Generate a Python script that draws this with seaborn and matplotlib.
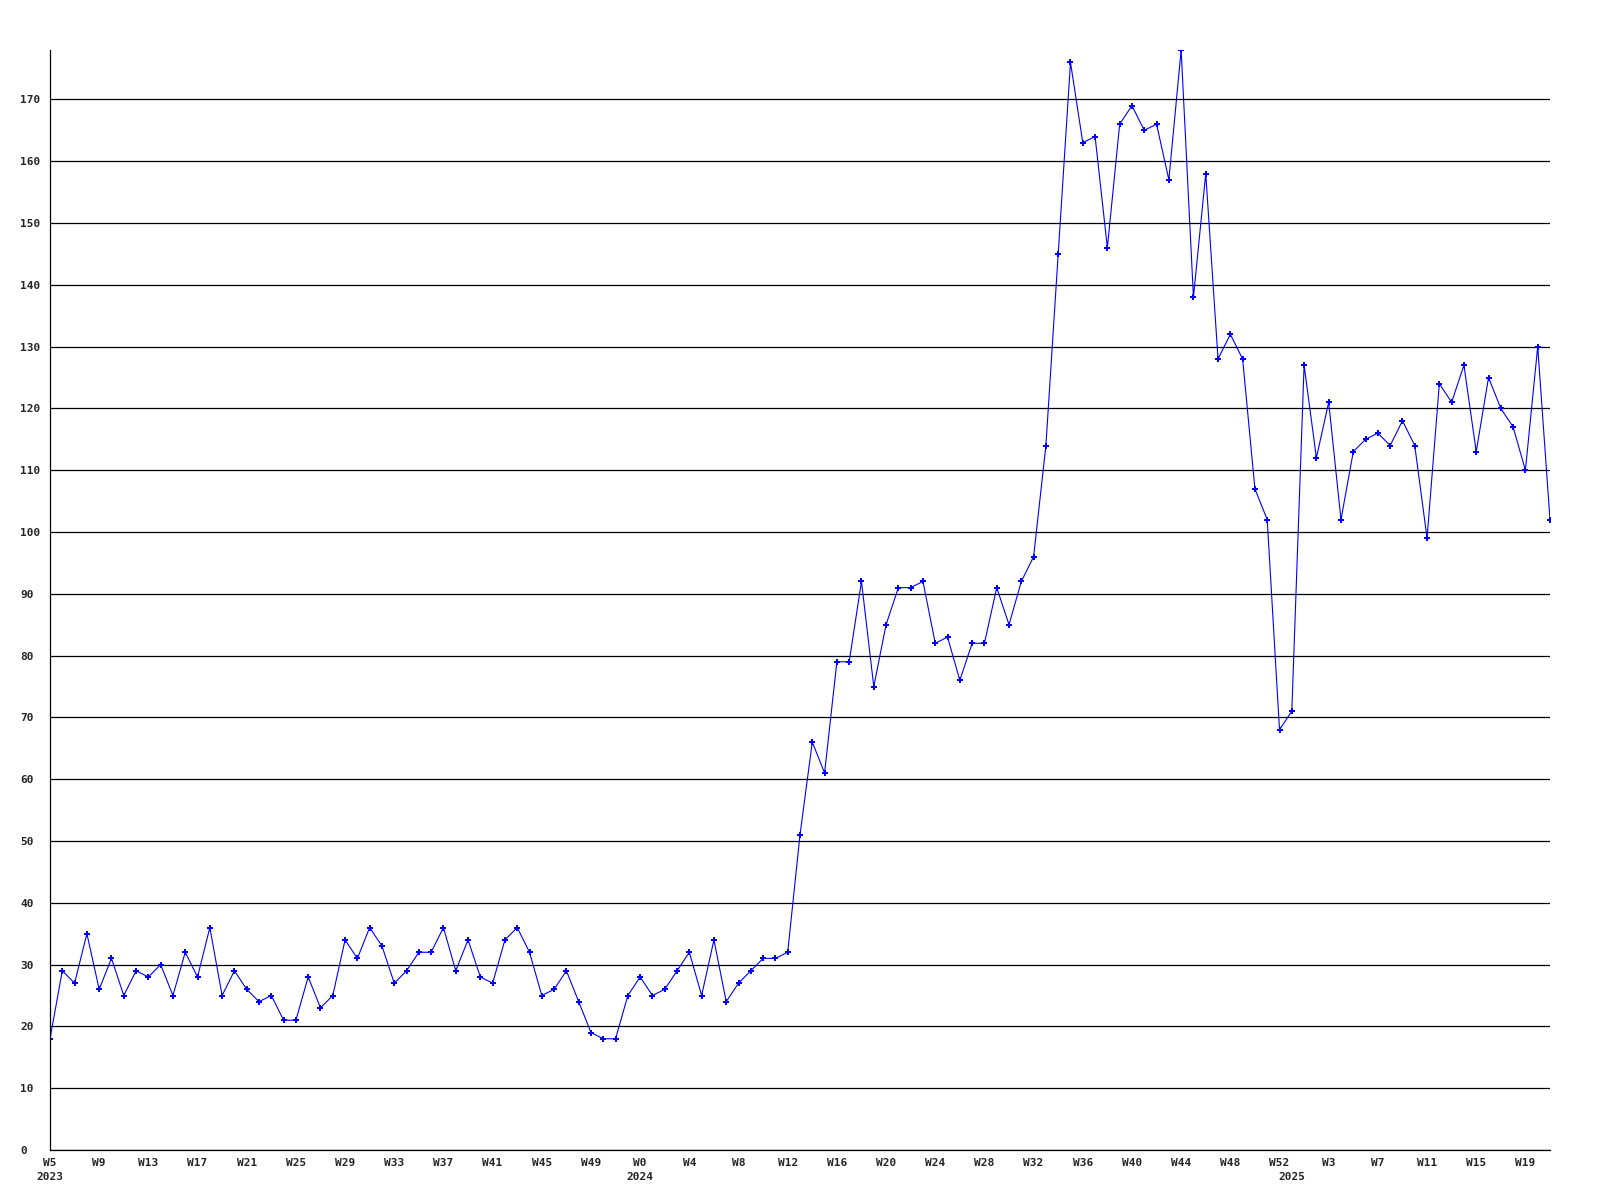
import matplotlib
matplotlib.use("Agg")
import matplotlib.pyplot as plt
import seaborn as sns
import pandas as pd

# weekly counts, 2023 W5 .. 2025 W21
values = [
    18, 29, 27, 35, 26, 31, 25, 29, 28, 30, 25, 32, 28, 36, 25, 29, 26, 24, 25, 21,
    21, 28, 23, 25, 34, 31, 36, 33, 27, 29, 32, 32, 36, 29, 34, 28, 27, 34, 36, 32,
    25, 26, 29, 24, 19, 18, 18, 25, 28, 25, 26, 29, 32, 25, 34, 24, 27, 29, 31, 31,
    32, 51, 66, 61, 79, 79, 92, 75, 85, 91, 91, 92, 82, 83, 76, 82, 82, 91, 85, 92,
    96, 114, 145, 176, 163, 164, 146, 166, 169, 165, 166, 157, 178, 138, 158, 128, 132, 128, 107, 102,
    68, 71, 127, 112, 121, 102, 113, 115, 116, 114, 118, 114, 99, 124, 121, 127, 113, 125, 120, 117,
    110, 130, 102,
]

week_labels = ["W5", "W9", "W13", "W17", "W21", "W25", "W29", "W33", "W37", "W41",
               "W45", "W49", "W0", "W4", "W8", "W12", "W16", "W20", "W24", "W28",
               "W32", "W36", "W40", "W44", "W48", "W52", "W3", "W7", "W11", "W15", "W19"]
year_labels = ["2023", "2024", "2025"]
year_positions = [0, 48, 101]

df = pd.DataFrame({"idx": range(len(values)), "count": values})

sns.set_theme(style="white")
plt.rcParams["font.family"] = ["DejaVu Sans Mono"]
plt.rcParams["font.weight"] = "bold"

fig = plt.figure(figsize=(16, 12), dpi=100)
ax = fig.add_axes([50 / 1600, 50 / 1200, 1500 / 1600, 1100 / 1200])

sns.lineplot(data=df, x="idx", y="count", ax=ax, color="blue", linewidth=0.8,
             marker="P", markersize=5, markeredgewidth=0, markerfacecolor="blue")

ax.set_xlim(0, len(values) - 1)
ax.set_ylim(0, 178)

ax.set_yticks(range(0, 171, 10))
ax.yaxis.grid(True, color="black", linewidth=0.9)
ax.xaxis.grid(False)
ax.set_axisbelow(True)

# week ticks every 4 points, year labels on a second row (minor ticks)
ax.xaxis.remove_overlapping_locs = False
ax.set_xticks(range(0, len(values), 4))
ax.set_xticklabels(week_labels)
ax.set_xticks(year_positions, minor=True)
ax.set_xticklabels(year_labels, minor=True)

ax.tick_params(axis="x", which="major", length=0, pad=6, labelsize=8)
ax.tick_params(axis="x", which="minor", length=0, pad=16, labelsize=8)
ax.tick_params(axis="y", length=0, pad=21.5, labelsize=8)
for lbl in ax.get_yticklabels():
    lbl.set_horizontalalignment("left")
for lbl in ax.get_xticklabels() + ax.get_xticklabels(minor=True) + ax.get_yticklabels():
    lbl.set_fontweight("bold")

ax.set_xlabel("")
ax.set_ylabel("")
for side in ["top", "right"]:
    ax.spines[side].set_visible(False)
for side in ["left", "bottom"]:
    ax.spines[side].set_color("black")
    ax.spines[side].set_linewidth(0.9)

fig.savefig("out.png", dpi=100)
